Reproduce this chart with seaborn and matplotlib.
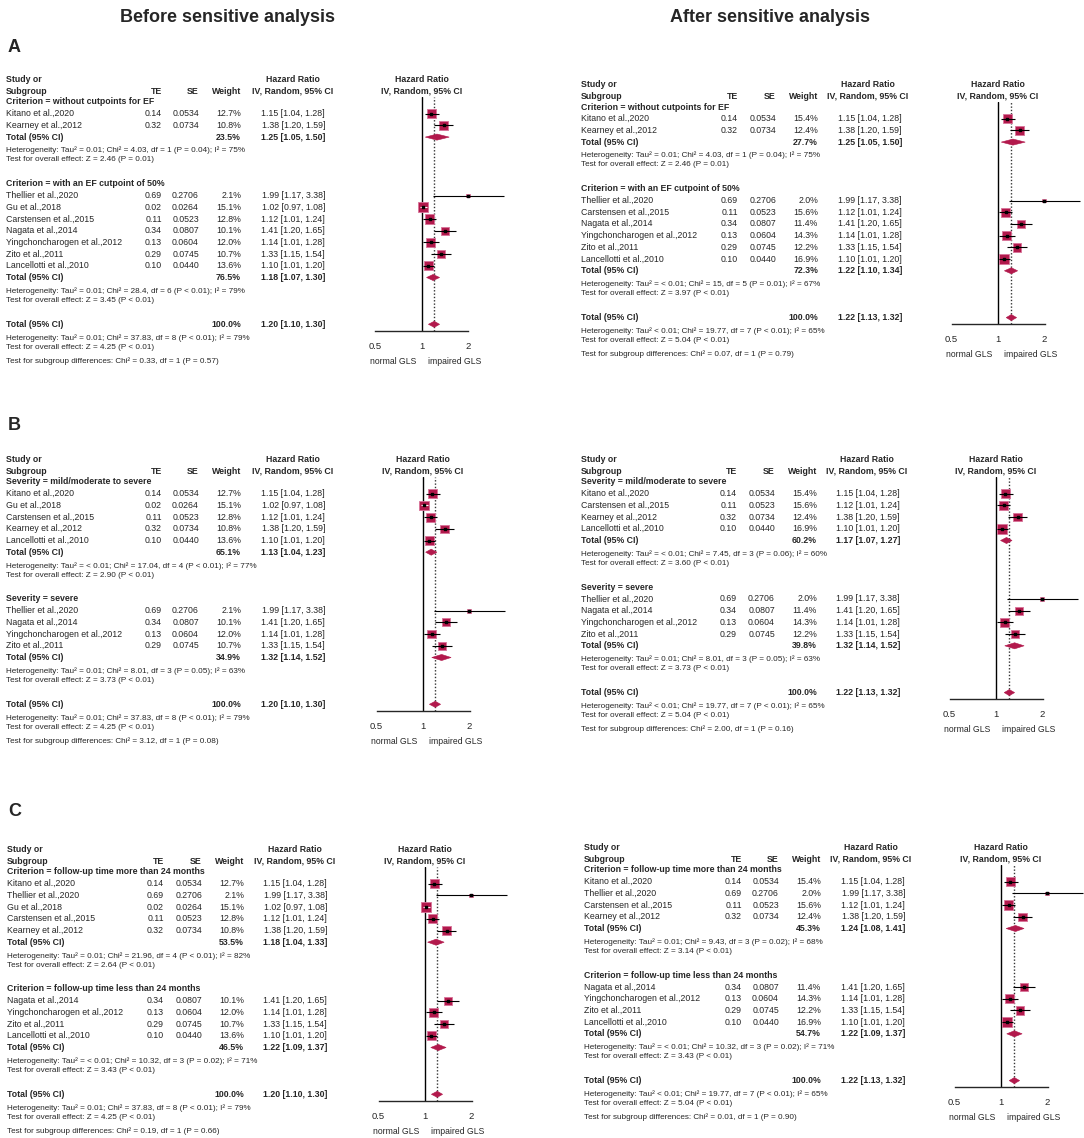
import matplotlib as mpl
mpl.use('Agg')
import matplotlib.pyplot as plt
import matplotlib.ticker as mticker
import numpy as np
import pandas as pd
import seaborn as sns


# Study level values (identical in every panel).
studies = ['Kitano et al.,2020', 'Thellier et al.,2020', 'Gu et al.,2018', 'Carstensen et al.,2015',
           'Nagata et al.,2014', 'Kearney et al.,2012', 'Yingchoncharogen et al.,2012',
           'Zito et al.,2011', 'Lancellotti et al.,2010']
te = [0.14, 0.69, 0.02, 0.11, 0.34, 0.32, 0.13, 0.29, 0.10]
se = [0.0534, 0.2706, 0.0264, 0.0523, 0.0807, 0.0734, 0.0604, 0.0745, 0.0440]
hr = [1.15, 1.99, 1.02, 1.12, 1.41, 1.38, 1.14, 1.33, 1.10]
hr_lo = [1.04, 1.17, 0.97, 1.01, 1.20, 1.20, 1.01, 1.15, 1.01]
hr_hi = [1.28, 3.38, 1.08, 1.24, 1.65, 1.59, 1.28, 1.54, 1.20]
weight_before = [12.7, 2.1, 15.1, 12.8, 10.1, 10.8, 12.0, 10.7, 13.6]
weight_after = [15.4, 2.0, None, 15.6, 11.4, 12.4, 14.3, 12.2, 16.9]

# Subgroups.
groups_A = ['Criterion = without cutpoints for EF', 'Criterion = with an EF cutpoint of 50%']
members_A = [['Kitano et al.,2020', 'Kearney et al.,2012'],
             ['Thellier et al.,2020', 'Gu et al.,2018', 'Carstensen et al.,2015', 'Nagata et al.,2014',
              'Yingchoncharogen et al.,2012', 'Zito et al.,2011', 'Lancellotti et al.,2010']]
groups_B = ['Severity = mild/moderate to severe', 'Severity = severe']
members_B = [['Kitano et al.,2020', 'Gu et al.,2018', 'Carstensen et al.,2015', 'Kearney et al.,2012',
              'Lancellotti et al.,2010'],
             ['Thellier et al.,2020', 'Nagata et al.,2014', 'Yingchoncharogen et al.,2012', 'Zito et al.,2011']]
groups_C = ['Criterion = follow-up time more than 24 months', 'Criterion = follow-up time less than 24 months']
members_C = [['Kitano et al.,2020', 'Thellier et al.,2020', 'Gu et al.,2018', 'Carstensen et al.,2015',
              'Kearney et al.,2012'],
             ['Nagata et al.,2014', 'Yingchoncharogen et al.,2012', 'Zito et al.,2011', 'Lancellotti et al.,2010']]

# Subgroup totals: (weight, HR, lower, upper).
totals_A_before = [(23.5, 1.25, 1.05, 1.50), (76.5, 1.18, 1.07, 1.30)]
totals_A_after = [(27.7, 1.25, 1.05, 1.50), (72.3, 1.22, 1.10, 1.34)]
totals_B_before = [(65.1, 1.13, 1.04, 1.23), (34.9, 1.32, 1.14, 1.52)]
totals_B_after = [(60.2, 1.17, 1.07, 1.27), (39.8, 1.32, 1.14, 1.52)]
totals_C_before = [(53.5, 1.18, 1.04, 1.33), (46.5, 1.22, 1.09, 1.37)]
totals_C_after = [(45.3, 1.24, 1.08, 1.41), (54.7, 1.22, 1.09, 1.37)]

het_A_before = ['Tau² = 0.01; Chi² = 4.03, df = 1 (P = 0.04); I² = 75%',
                'Tau² = 0.01; Chi² = 28.4, df = 6 (P < 0.01); I² = 79%']
het_A_after = ['Tau² = 0.01; Chi² = 4.03, df = 1 (P = 0.04); I² = 75%',
               'Tau² = < 0.01; Chi² = 15, df = 5 (P = 0.01); I² = 67%']
het_B_before = ['Tau² = < 0.01; Chi² = 17.04, df = 4 (P < 0.01); I² = 77%',
                'Tau² = 0.01; Chi² = 8.01, df = 3 (P = 0.05); I² = 63%']
het_B_after = ['Tau² = < 0.01; Chi² = 7.45, df = 3 (P = 0.06); I² = 60%',
               'Tau² = 0.01; Chi² = 8.01, df = 3 (P = 0.05); I² = 63%']
het_C_before = ['Tau² = 0.01; Chi² = 21.96, df = 4 (P < 0.01); I² = 82%',
                'Tau² = < 0.01; Chi² = 10.32, df = 3 (P = 0.02); I² = 71%']
het_C_after = ['Tau² = 0.01; Chi² = 9.43, df = 3 (P = 0.02); I² = 68%',
               'Tau² = < 0.01; Chi² = 10.32, df = 3 (P = 0.02); I² = 71%']

z_A_before = ['Z = 2.46 (P = 0.01)', 'Z = 3.45 (P < 0.01)']
z_A_after = ['Z = 2.46 (P = 0.01)', 'Z = 3.97 (P < 0.01)']
z_B_before = ['Z = 2.90 (P < 0.01)', 'Z = 3.73 (P < 0.01)']
z_B_after = ['Z = 3.60 (P < 0.01)', 'Z = 3.73 (P < 0.01)']
z_C_before = ['Z = 2.64 (P < 0.01)', 'Z = 3.43 (P < 0.01)']
z_C_after = ['Z = 3.14 (P < 0.01)', 'Z = 3.43 (P < 0.01)']

# Overall results.
overall_before = (100.0, 1.20, 1.10, 1.30)
overall_after = (100.0, 1.22, 1.13, 1.32)
overall_het_before = 'Tau² = 0.01; Chi² = 37.83, df = 8 (P < 0.01); I² = 79%'
overall_het_after = 'Tau² < 0.01; Chi² = 19.77, df = 7 (P < 0.01); I² = 65%'
overall_z_before = 'Z = 4.25 (P < 0.01)'
overall_z_after = 'Z = 5.04 (P < 0.01)'
sub_diff = {'A_before': 'Chi² = 0.33, df = 1 (P = 0.57)', 'A_after': 'Chi² = 0.07, df = 1 (P = 0.79)',
            'B_before': 'Chi² = 3.12, df = 1 (P = 0.08)', 'B_after': 'Chi² = 2.00, df = 1 (P = 0.16)',
            'C_before': 'Chi² = 0.19, df = 1 (P = 0.66)', 'C_after': 'Chi² = 0.01, df = 1 (P = 0.90)'}

W, H = 1084, 1138
RH = 11.7          # pixels per table row
PPL = 46.5         # pixels per doubling of the hazard ratio
CRIMSON = '#B2194C'
FS = 6.3
FS_SMALL = 5.85


def rect(x0, y0, x1, y1):
    return [x0 / W, 1 - y1 / H, (x1 - x0) / W, (y1 - y0) / H]


def draw_panel(fig, y0, cols, one_x, groups, members, weights, totals, hets, zs,
               overall, overall_het, overall_z, diff):
    name_x, te_x, se_x, w_x, ci_x, hdr_x = cols

    # Row layout.
    study_recs = []
    total_recs = []
    header_rows = []
    r = 0
    for g, mem in enumerate(members):
        header_rows.append(r)
        for k, name in enumerate(mem):
            i = studies.index(name)
            study_recs.append({'row': r + 1 + k, 'name': name, 'te': te[i], 'se': se[i],
                               'weight': weights[i], 'hr': hr[i], 'lo': hr_lo[i], 'hi': hr_hi[i]})
        r = r + len(mem) + 1
        total_recs.append(r)
        r = r + 4
    overall_row = r
    axis_row = overall_row + 0.55
    df = pd.DataFrame(study_recs)

    # Text table.
    tax = fig.add_axes(rect(0, y0 - 3 * RH, W, y0 + 24 * RH))
    tax.set_xlim(0, W)
    tax.set_ylim(24, -3)
    tax.axis('off')

    def txt(x, y, s, ha='left', bold=False, size=FS):
        tax.text(x, y, s, ha=ha, va='center', fontsize=size,
                 fontweight='bold' if bold else 'normal', clip_on=False)

    txt(name_x, -1.95, 'Study or', bold=True)
    txt(hdr_x, -1.95, 'Hazard Ratio', ha='center', bold=True)
    txt(one_x, -1.95, 'Hazard Ratio', ha='center', bold=True)
    txt(name_x, -0.9, 'Subgroup', bold=True)
    txt(te_x, -0.9, 'TE', ha='right', bold=True)
    txt(se_x, -0.9, 'SE', ha='right', bold=True)
    txt(w_x, -0.9, 'Weight', ha='right', bold=True)
    txt(hdr_x, -0.9, 'IV, Random, 95% CI', ha='center', bold=True)
    txt(one_x, -0.9, 'IV, Random, 95% CI', ha='center', bold=True)

    for g, hrow in enumerate(header_rows):
        txt(name_x, hrow, groups[g], bold=True)
    for rec in study_recs:
        txt(name_x, rec['row'], rec['name'])
        txt(te_x, rec['row'], f"{rec['te']:.2f}", ha='right')
        txt(se_x, rec['row'], f"{rec['se']:.4f}", ha='right')
        txt(w_x, rec['row'], f"{rec['weight']:.1f}%", ha='right')
        txt(ci_x, rec['row'], f"{rec['hr']:.2f} [{rec['lo']:.2f}, {rec['hi']:.2f}]", ha='right')

    all_totals = list(zip(total_recs, totals, hets, zs)) + [(overall_row, overall, overall_het, overall_z)]
    for trow, (w, est, lo, hi), het, z in all_totals:
        txt(name_x, trow, 'Total (95% CI)', bold=True)
        txt(w_x, trow, f'{w:.1f}%', ha='right', bold=True)
        txt(ci_x, trow, f'{est:.2f} [{lo:.2f}, {hi:.2f}]', ha='right', bold=True)
        txt(name_x, trow + 1.15, 'Heterogeneity: ' + het, size=FS_SMALL)
        txt(name_x, trow + 1.95, 'Test for overall effect: ' + z, size=FS_SMALL)
    txt(name_x, overall_row + 3.15, 'Test for subgroup differences: ' + diff, size=FS_SMALL)

    # Forest plot.
    x0 = one_x - 60
    x1 = min(one_x + 90, W)
    top_row = -0.4
    fax = fig.add_axes(rect(x0, y0 + top_row * RH, x1, y0 + axis_row * RH))
    fax.patch.set_visible(False)
    fax.set_xscale('log', base=2)
    fax.set_xlim(2 ** ((x0 - one_x) / PPL), 2 ** ((x1 - one_x) / PPL))
    fax.set_ylim(axis_row, top_row)

    fax.axvline(1, color='black', lw=1.0, zorder=1)
    fax.axvline(overall[1], color='#333333', lw=1.0, ls=(0, (1, 1.4)), zorder=1)

    wmax = df['weight'].max()
    side_max = 9.8 * 72 / 100  # points
    sns.scatterplot(data=df, x='hr', y='row', size='weight', sizes=(0, side_max ** 2),
                    size_norm=(0, wmax), marker='s', color=CRIMSON, edgecolor='#D8749A',
                    linewidth=0.6, legend=False, ax=fax, zorder=3)

    # CI lines: white when the interval hides inside the square.
    half = np.sqrt(df['weight'] / wmax) * 9.8 / 2 / PPL
    inside = (np.log2(df['hr'] / df['lo']) < half) & (np.log2(df['hi'] / df['hr']) < half)
    line_cols = ['white' if v else 'black' for v in inside]
    fax.hlines(df['row'], df['lo'], df['hi'], colors=line_cols, lw=0.8, zorder=4)
    fax.scatter(df['hr'], df['row'], marker='s', s=2.5, color='black', zorder=5)

    dh = 0.26
    for trow, (w, est, lo, hi) in list(zip(total_recs, totals)) + [(overall_row, overall)]:
        fax.fill([lo, est, hi, est], [trow, trow - dh, trow, trow + dh],
                 color=CRIMSON, lw=0.4, ec=CRIMSON, zorder=3)

    for s in ['top', 'left', 'right']:
        fax.spines[s].set_visible(False)
    fax.spines['bottom'].set_linewidth(1.0)
    fax.spines['bottom'].set_bounds(0.5, 2)
    fax.set_xticks([0.5, 1, 2])
    fax.set_xticklabels(['0.5', '1', '2'])
    fax.xaxis.set_minor_locator(mticker.NullLocator())
    fax.set_yticks([])
    fax.set_xlabel('')
    fax.set_ylabel('')
    fax.tick_params(axis='x', direction='in', length=4, width=1.0, pad=8, labelsize=6.8)
    fax.annotate('normal GLS', xy=(1, 0), xycoords=('data', 'axes fraction'), xytext=(-4, -22),
                 textcoords='offset points', ha='right', va='center', fontsize=6.2)
    fax.annotate('impaired GLS', xy=(1, 0), xycoords=('data', 'axes fraction'), xytext=(4, -22),
                 textcoords='offset points', ha='left', va='center', fontsize=6.2)


def main():
    sns.set_theme(style='white')
    plt.rcParams['font.family'] = ['Liberation Sans', 'DejaVu Sans']

    fig = plt.figure(figsize=(W / 100, H / 100), dpi=100)

    fig.text(228 / W, 1 - 18 / H, 'Before sensitive analysis', ha='center', va='center',
             fontsize=13, fontweight='bold')
    fig.text(770 / W, 1 - 18 / H, 'After sensitive analysis', ha='center', va='center',
             fontsize=13, fontweight='bold')
    for letter, ypx in [('A', 48), ('B', 425), ('C', 812)]:
        fig.text(8 / W, 1 - ypx / H, letter, ha='left', va='center', fontsize=13, fontweight='bold')

    left_A = (6, 162, 199, 241, 325, 293)
    right_A = (581, 738, 776, 818, 902, 868)
    left_B = (6, 162, 199, 241, 325, 293)
    right_B = (581, 737, 775, 817, 900, 867)
    left_C = (7, 164, 202, 244, 327, 295)
    right_C = (584, 742, 779, 821, 905, 871)

    draw_panel(fig, 102, left_A, 422, groups_A, members_A, weight_before, totals_A_before,
               het_A_before, z_A_before, overall_before, overall_het_before, overall_z_before,
               sub_diff['A_before'])
    draw_panel(fig, 107, right_A, 998, groups_A,
               [members_A[0], [m for m in members_A[1] if m != 'Gu et al.,2018']],
               weight_after, totals_A_after, het_A_after, z_A_after,
               overall_after, overall_het_after, overall_z_after, sub_diff['A_after'])
    draw_panel(fig, 482, left_B, 423, groups_B, members_B, weight_before, totals_B_before,
               het_B_before, z_B_before, overall_before, overall_het_before, overall_z_before,
               sub_diff['B_before'])
    draw_panel(fig, 482, right_B, 996, groups_B,
               [[m for m in mem if m != 'Gu et al.,2018'] for mem in members_B],
               weight_after, totals_B_after, het_B_after, z_B_after,
               overall_after, overall_het_after, overall_z_after, sub_diff['B_after'])
    draw_panel(fig, 872, left_C, 425, groups_C, members_C, weight_before, totals_C_before,
               het_C_before, z_C_before, overall_before, overall_het_before, overall_z_before,
               sub_diff['C_before'])
    draw_panel(fig, 870, right_C, 1001, groups_C,
               [[m for m in mem if m != 'Gu et al.,2018'] for mem in members_C],
               weight_after, totals_C_after, het_C_after, z_C_after,
               overall_after, overall_het_after, overall_z_after, sub_diff['C_after'])

    plt.savefig('out.png', dpi=100)


if __name__ == '__main__':
    main()
